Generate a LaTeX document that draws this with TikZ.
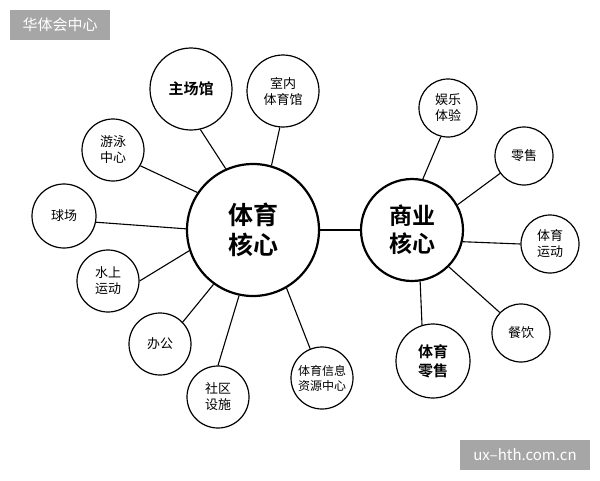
\documentclass[tikz,border=0pt]{standalone}
\usepackage{fontspec}
\setmainfont{Noto Sans CJK SC}[BoldFont={Noto Sans CJK SC Bold}]
\definecolor{tagbg}{HTML}{A6A6A6}
\begin{document}
\begin{tikzpicture}[x=1pt,y=-1pt,
  small/.style={circle,draw,line width=1.2pt,inner sep=0pt,minimum size=#1,align=center,font=\fontsize{13}{16}\selectfont},
  bold/.style={font=\fontsize{15}{19}\selectfont\bfseries},
  big/.style={circle,draw,line width=2.2pt,inner sep=0pt,minimum size=#1,align=center,font=\fontsize{25}{30}\selectfont\bfseries},
  link/.style={line width=1.1pt},
  tag/.style={fill=tagbg,text=white,inner sep=0pt,font=\fontsize{15}{18}\selectfont}]
\useasboundingbox (0,0) rectangle (600,480);
% tags
\node[tag,minimum width=100pt,minimum height=30pt] (tagA) at (60,25) {华体会中心};
\node[tag,minimum width=130pt,minimum height=30pt] (tagB) at (525,455) {ux–hth.com.cn};
% cores
\node[big=132pt] (sport) at (253,230) {体育\\核心};
\node[big=102pt,font=\fontsize{23}{28}\selectfont\bfseries] (biz) at (412,230) {商业\\核心};
% satellites of sport core
\node[small=82pt,bold] (arena) at (191,89) {主场馆};
\node[small=72pt] (indoor) at (283,91) {室内\\体育馆};
\node[small=62pt] (swim) at (113,150) {游泳\\中心};
\node[small=64pt] (court) at (64,216) {球场};
\node[small=62pt] (water) at (108,281) {水上\\运动};
\node[small=62pt] (office) at (160,344) {办公};
\node[small=62pt] (comm) at (218,397) {社区\\设施};
\node[small=62pt,font=\fontsize{12}{15}\selectfont] (info) at (322,378) {体育信息\\资源中心};
% satellites of business core
\node[small=58pt] (fun) at (448,108) {娱乐\\体验};
\node[small=58pt] (retail) at (524,156) {零售};
\node[small=58pt] (sportR) at (550,244) {体育\\运动};
\node[small=58pt] (food) at (521,333) {餐饮};
\node[small=74pt,bold] (sretail) at (433,361) {体育\\零售};
% links
\draw[link] (sport.east) -- (biz.west);
\draw[link] (arena.-77) -- (sport.114);
\draw[link] (indoor.-95) -- (sport.74);
\draw[link] (swim.-30) -- (sport.146);
\draw[link] (court.-11) -- (sport.179);
\draw[link] (water.0) -- (sport.198);
\draw[link] (office.44) -- (sport.234);
\draw[link] (comm.90) -- (sport.258);
\draw[link] (info.112) -- (sport.-60);
\draw[link] (fun.256) -- (biz.78);
\draw[link] (retail.216) -- (biz.29);
\draw[link] (sportR.180) -- (biz.-13);
\draw[link] (food.136) -- (biz.-45);
\draw[link] (sretail.107) -- (biz.-81);
\end{tikzpicture}
\end{document}
